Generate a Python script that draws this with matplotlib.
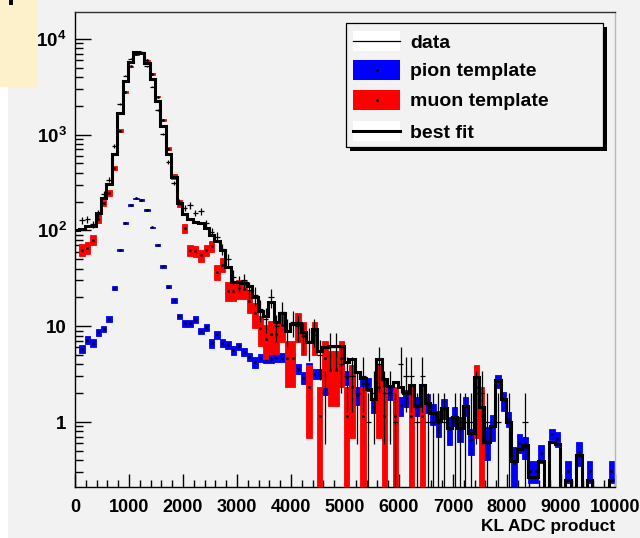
import numpy as np
import matplotlib
matplotlib.use('Agg')
import matplotlib.pyplot as plt
from matplotlib.patches import Rectangle
from matplotlib.lines import Line2D
from matplotlib.ticker import (FixedLocator, FixedFormatter, LogLocator,
                               NullFormatter, MultipleLocator, FuncFormatter)

# ---------------- data (bins of width 100 starting at -20) ----------------
bin_edges = np.arange(-20, 9981, 100)

fit_vals = [100, 103, 110, 112, 151, 220, 305, 628, 1670, 3630,
            5780, 7250, 7100, 5640, 3790, 2245, 1230, 623, 360, 194,
            150, 130, 122, 120, 106, 90, 77, 62, 41, 29,
            29, 28, 26, 20, 14.4, 12.8, 18.0, 11.1, 13.9, 8.9,
            10.5, 10.8, 8.6, 6.9, 9.3, 5.5, 6.0, 6.2, 6.2, 6.2,
            4.2, 4.6, 3.3, 2.85, 2.2, 1.74, 4.5, 2.8, 2.4, 2.6,
            2.3, 2.0, 2.43, 1.48, 2.43, 1.58, 1.24, 1.06, 1.39, 0.86,
            1.12, 0.87, 1.48, 0.76, 2.96, 1.44, 0.62, 0.9, 2.74, 1.74,
            0.99, 0.39, 0.52, 0.58, 0.27, 0.27, 0.39, 0, 0.62, 0.59,
            0, 0.25, 0, 0.45, 0, 0.25, 0, 0, 0, 0.25]

pion_vals = [0,
             5.75, 7.2, 6.7, 8.6, 9.4, 11.9, 24.9, 62, 120, 186,
             216, 206, 164, 108, 70, 42, 25.8, 18.7, 12.7, 10.8,
             10.8, 11.7, 8.9, 9.7, 6.7, 8.2, 6.7, 6.4, 5.6, 6.2,
             5.35, 4.8, 4.2, 4.7, 4.6, 4.6, 4.7, 4.7, 4.8, 4.7,
             3.6, 2.9, 3.76, 3.2, 3.2, 2.34, 3.2, 3.5, 3.3, 2.95,
             2.6, 1.9, 2.58, 2.5, 1.47, 2.0, 2.38, 2.05, 1.55, 1.49,
             1.8, 1.8, 1.49, 1.6, 1.6, 1.24, 0.99, 1.4, 0.85, 1.17,
             0.87, 1.49, 0.65, 1.0, 1.2, 0.64, 0.91, 2.68, 1.69, 1.08,
             0.37, 0.61, 0.55, 0.31, 0.31, 0.47, 0, 0.745, 0.67, 0,
             0.31, 0, 0.485, 0, 0.31, 0, 0, 0, 0.31]

pion_errs = [0,
             0.55, 0.65, 0.6, 0.68, 0.7, 0.79, 1.2, 1.75, 2.9, 4.5,
             3.5, 4.1, 4.0, 1.3, 1.7, 1.4, 1.0, 1.2, 0.85, 0.9,
             0.9, 1.0, 0.7, 0.8, 0.74, 0.8, 0.63, 0.62, 0.59, 0.52,
             0.51, 0.46, 0.53, 0.45, 0.5, 0.5, 0.5, 0.5, 0.6, 0.6,
             0.46, 0.41, 0.35, 0.4, 0.4, 0.42, 0.55, 0.6, 0.72, 0.5,
             0.5, 0.4, 0.38, 0.37, 0.24, 0.4, 0.35, 0.35, 0.35, 0.34,
             0.35, 0.35, 0.34, 0.3, 0.35, 0.31, 0.3, 0.32, 0.27, 0.25,
             0.25, 0.34, 0.2, 0.3, 0.3, 0.24, 0.27, 0.4, 0.38, 0.2,
             0.18, 0.14, 0.14, 0.08, 0.08, 0.1, 0, 0.1, 0.12, 0,
             0.08, 0, 0.135, 0, 0.08, 0, 0, 0, 0.08]

muon_vals = [0,
             63, 66, 80, 133, 193, 248, 446, 1100, 2760, 5130,
             6900, 7100, 5930, 4300, 2490, 1420, 713, 363, 191, 105,
             62, 61, 55, 62, 68, 37, 44, 23.4, 23.5, 24.8,
             24.5, 18.5, 13.6, 9.5, 7.4, 8.2, 8.2, 10.3, 4.64, 4.64,
             10.4, 8.1, 2.32, 8.1, 1.16, 4.64, 3.48, 3.48, 4.64, 1.16,
             2.32, 0, 1.16, 0, 0, 2.32, 1.16, 0, 1.16, 0,
             0, 1.16, 0, 1.16, 0, 0, 0, 0, 0, 0,
             0, 0, 0, 2.32, 1.16, 0, 0, 0, 0, 0,
             0, 0, 0, 0, 0, 0, 0, 0, 0, 0,
             0, 0, 0, 0, 0, 0, 0, 0, 0]

muon_errs = [0,
             8.5, 8.8, 9.6, 12.4, 15, 17, 22.7, 35.7, 56.6, 77,
             89, 91, 83, 70.6, 53.7, 40.6, 28.8, 20.5, 14.9, 11,
             8.5, 8.4, 8.0, 8.5, 8.9, 6.6, 7.1, 5.2, 5.2, 5.4,
             5.3, 4.6, 4.0, 3.3, 2.9, 3.1, 3.1, 3.5, 2.32, 2.32,
             3.5, 3.07, 1.64, 3.07, 1.16, 2.32, 2.0, 2.0, 2.32, 1.16,
             1.64, 0, 1.16, 0, 0, 1.64, 1.16, 0, 1.16, 0,
             0, 1.16, 0, 1.16, 0, 0, 0, 0, 0, 0,
             0, 0, 0, 1.64, 1.16, 0, 0, 0, 0, 0,
             0, 0, 0, 0, 0, 0, 0, 0, 0, 0,
             0, 0, 0, 0, 0, 0, 0, 0, 0]

data_counts = [0,
               128, 130, 116, 150, 240, 338, 760, 2090, 4130, 6150,
               7000, 7300, 5130, 3160, 1810, 1015, 521, 312, 200, 172,
               182, 152, 158, 118, 97, 86, 64, 50, 33, 28,
               30, 24, 21, 15, 12, 20, 10, 14, 9, 11,
               10, 8, 7, 9, 5, 2, 6, 6, 4, 3,
               3, 2, 3, 1, 2, 4, 2, 2, 1, 4,
               3, 3, 1, 3, 1, 1, 1, 1, 0, 1,
               1, 1, 1, 2, 2, 1, 0, 1, 0, 1,
               0, 0, 1, 0, 0, 0, 0, 0, 0, 0,
               0, 0, 0, 0, 0, 0, 0, 0, 0]

x_ticks = [0, 1000, 2000, 3000, 4000, 5000, 6000, 7000, 8000, 9000, 10000]
y_ticks = [1, 10, 100, 1000, 10000]
y_labels = ['1', '10', '$10^{2}$', '$10^{3}$', '$10^{4}$']
legend_labels = ['data', 'pion template', 'muon template', 'best fit']
x_title = 'KL ADC product'

# ---------------- fonts ----------------
base = 'Liberation Sans'
plt.rcParams['font.family'] = [base, 'DejaVu Sans']
plt.rcParams['font.weight'] = 'bold'
plt.rcParams['mathtext.fontset'] = 'custom'
plt.rcParams['mathtext.rm'] = base + ':bold'
plt.rcParams['mathtext.bf'] = base + ':bold'
plt.rcParams['mathtext.it'] = base + ':bold'
plt.rcParams['mathtext.default'] = 'bf'

BG = '#f2f2f2'
W, H = 640, 538
fig = plt.figure(figsize=(6.4, 5.38), dpi=100, facecolor=BG)


def rect_px(x0, y0, x1, y1, **kw):
    r = Rectangle((x0 / W, 1 - y1 / H), (x1 - x0) / W, (y1 - y0) / H,
                  transform=fig.transFigure, **kw)
    fig.add_artist(r)
    return r


# decorations at top-left
rect_px(0, 87, 8, H, facecolor='white', edgecolor='none', zorder=0)
rect_px(0, 0, 38, 87, facecolor='#fdf1cc', edgecolor='none', zorder=0)
rect_px(9, 0, 13, 5, facecolor='black', edgecolor='none', zorder=1)

ax = fig.add_axes([75 / W, 1 - 487 / H, (615 - 75) / W, (487 - 12) / H])
ax.set_facecolor(BG)

centers = bin_edges[:-1] + 50
width = 100

# pion template (E2 boxes)
pv = np.array(pion_vals, float)
pe = np.array(pion_errs, float)
m = pv > 0
lo = np.maximum(pv - pe, 1e-3)
ax.bar(centers[m], (pv + pe)[m] - lo[m], bottom=lo[m], width=width,
       color='#0000ff', edgecolor='#0000ff', linewidth=0.6, zorder=2)
ax.plot(centers[m], pv[m], ls='none', marker='s', ms=0.9, color='k', zorder=2.5)

# muon template
mv = np.array(muon_vals, float)
me = np.array(muon_errs, float)
m2 = mv > 0
lo2 = np.maximum(mv - me, 1e-3)
ax.bar(centers[m2], (mv + me)[m2] - lo2[m2], bottom=lo2[m2], width=width,
       color='#ff0000', edgecolor='#ff0000', linewidth=0.6, zorder=3)
ax.plot(centers[m2], mv[m2], ls='none', marker='s', ms=0.9, color='k', zorder=3.5)

# data
d = np.array(data_counts, float)
md = d > 0
derr = np.sqrt(d)
dlow = d - np.maximum(d - derr, 1e-3)
ax.errorbar(centers[md], d[md], xerr=width / 2, yerr=[dlow[md], derr[md]],
            fmt='none', ecolor='black', elinewidth=0.9, capsize=0, zorder=4)

# best fit
fv = np.array(fit_vals, float)
fplot = np.where(fv > 0, fv, 1e-2)
ax.stairs(fplot, bin_edges, color='black', linewidth=2.2, baseline=None,
          zorder=6, joinstyle='miter')

# axes
ax.set_xlim(0, 10000)
ax.set_yscale('log')
ax.set_ylim(0.21, 1.9e4)
ax.xaxis.set_major_locator(FixedLocator(x_ticks))
ax.xaxis.set_major_formatter(FuncFormatter(lambda v, p: f'{int(v)}'))
ax.xaxis.set_minor_locator(MultipleLocator(200))
ax.yaxis.set_major_locator(FixedLocator(y_ticks))
ax.yaxis.set_major_formatter(FixedFormatter(y_labels))
ax.yaxis.set_minor_locator(LogLocator(base=10, subs=np.arange(2, 10), numticks=30))
ax.yaxis.set_minor_formatter(NullFormatter())

ax.tick_params(which='both', direction='in', top=False, right=False,
               color='black', width=1.0)
ax.tick_params(axis='y', which='major', length=11.5, pad=6, labelsize=13.5)
ax.tick_params(axis='y', which='minor', length=5.8)
ax.tick_params(axis='x', which='major', length=9.5, pad=9, labelsize=13)
ax.tick_params(axis='x', which='minor', length=5)

for s in ('left', 'bottom'):
    ax.spines[s].set_color('black')
    ax.spines[s].set_linewidth(1.0)
ax.spines['top'].set_color('#303030')
ax.spines['top'].set_linewidth(1.0)
ax.spines['right'].set_color('#b8b8b8')
ax.spines['right'].set_linewidth(1.0)

fig.text(615 / W, 1 - 526 / H, x_title, ha='right', va='center',
         fontsize=12.5, fontweight='bold')

# legend (drawn as a ROOT-style box)
rect_px(350, 27, 607, 151, facecolor='black', edgecolor='none', zorder=10)
rect_px(346, 23, 603, 147, facecolor=BG, edgecolor='black', linewidth=0.9, zorder=11)
rows = [41, 70, 100, 131]
sym_fill = ['white', '#0000ff', '#ff0000', 'white']
line_w = [0.9, 0, 0, 2.2]
for lab, yc, fc, lw in zip(legend_labels, rows, sym_fill, line_w):
    rect_px(353, yc - 10, 400, yc + 10, facecolor=fc, edgecolor='none', zorder=12)
    if lw > 0:
        fig.add_artist(Line2D([353 / W, 400 / W], [1 - yc / H, 1 - yc / H],
                              transform=fig.transFigure, color='black',
                              linewidth=lw, zorder=13))
    else:
        fig.add_artist(Line2D([376.5 / W], [1 - yc / H], transform=fig.transFigure,
                              ls='none', marker='s', ms=0.9, color='black', zorder=13))
    fig.text(410 / W, 1 - yc / H, lab, ha='left', va='center_baseline',
             fontsize=14, fontweight='bold', zorder=14)

fig.savefig('out.png', dpi=100, facecolor=BG)
